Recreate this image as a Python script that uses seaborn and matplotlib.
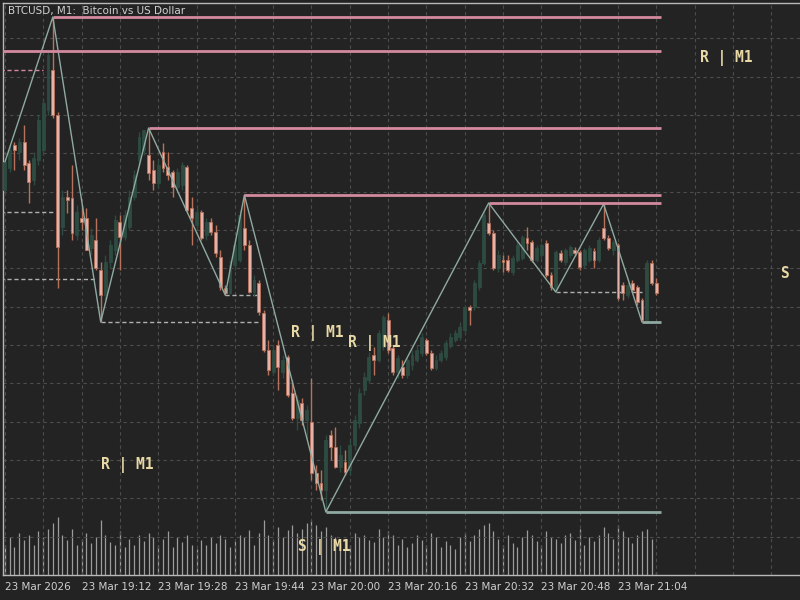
import numpy as np
import pandas as pd
import seaborn as sns
import matplotlib
matplotlib.use("Agg")
import matplotlib.pyplot as plt

# ---- data (BTCUSD M1, one bar per minute from 18:56) ----
opens = [68810, 68832, 68855, 68848, 68858, 68837, 68820, 68840, 68850, 68890,
         68930, 68885, 68773, 68803, 68802, 68765, 68782, 68782, 68752, 68760,
         68730, 68705, 68738, 68750, 68778, 68763, 68773, 68803, 68840, 68850,
         68845, 68830, 68817, 68848, 68833, 68828, 68813, 68815, 68833, 68792,
         68775, 68788, 68765, 68778, 68768, 68743, 68712, 68707, 68735, 68740,
         68772, 68755, 68708, 68717, 68687, 68650, 68628, 68655, 68628, 68643,
         68607, 68582, 68597, 68580, 68578, 68527, 68517, 68510, 68565, 68553,
         68533, 68538, 68530, 68555, 68577, 68610, 68620, 68645, 68640, 68653,
         68680, 68652, 68628, 68633, 68625, 68635, 68640, 68647, 68660, 68647,
         68632, 68640, 68643, 68654, 68660, 68663, 68670, 68693, 68693, 68713,
         68737, 68777, 68767, 68732, 68740, 68740, 68728, 68740, 68742, 68762,
         68758, 68740, 68745, 68757, 68725, 68710, 68747, 68738, 68745, 68750,
         68748, 68735, 68740, 68749, 68740, 68772, 68762, 68750, 68755, 68715,
         68705, 68717, 68713, 68700, 68680, 68737, 68717]
highs = [68842, 68855, 68858, 68862, 68875, 68840, 68848, 68885, 68902, 68950,
         68983, 68888, 68810, 68810, 68835, 68795, 68795, 68792, 68772, 68782,
         68738, 68745, 68760, 68785, 68785, 68790, 68810, 68830, 68868, 68870,
         68872, 68840, 68840, 68857, 68848, 68830, 68832, 68838, 68835, 68803,
         68792, 68790, 68782, 68782, 68775, 68750, 68715, 68740, 68760, 68790,
         68805, 68760, 68725, 68720, 68690, 68660, 68655, 68660, 68645, 68645,
         68620, 68605, 68602, 68595, 68622, 68535, 68530, 68565, 68570, 68573,
         68555, 68550, 68560, 68585, 68612, 68628, 68648, 68653, 68670, 68685,
         68687, 68655, 68645, 68640, 68642, 68650, 68655, 68667, 68662, 68650,
         68645, 68650, 68660, 68667, 68670, 68678, 68695, 68695, 68720, 68740,
         68788, 68797, 68770, 68750, 68745, 68745, 68745, 68758, 68765, 68773,
         68760, 68755, 68757, 68760, 68728, 68750, 68750, 68752, 68755, 68753,
         68750, 68752, 68755, 68752, 68763, 68796, 68765, 68760, 68757, 68718,
         68718, 68720, 68715, 68702, 68740, 68740, 68722]
lows = [68805, 68828, 68830, 68840, 68830, 68797, 68815, 68835, 68845, 68885,
        68882, 68712, 68765, 68787, 68760, 68760, 68770, 68750, 68745, 68730,
        68678, 68700, 68732, 68745, 68730, 68760, 68770, 68800, 68835, 68845,
        68820, 68810, 68812, 68828, 68820, 68803, 68810, 68810, 68788, 68755,
        68770, 68760, 68760, 68765, 68743, 68710, 68705, 68706, 68730, 68738,
        68750, 68707, 68704, 68685, 68648, 68625, 68625, 68610, 68622, 68603,
        68580, 68570, 68575, 68560, 68520, 68510, 68500, 68488, 68540, 68532,
        68528, 68525, 68525, 68550, 68572, 68605, 68617, 68625, 68638, 68650,
        68647, 68625, 68622, 68622, 68622, 68630, 68638, 68644, 68645, 68630,
        68630, 68638, 68640, 68652, 68658, 68660, 68667, 68675, 68690, 68710,
        68735, 68765, 68730, 68728, 68728, 68728, 68725, 68738, 68740, 68750,
        68738, 68738, 68742, 68723, 68710, 68708, 68738, 68735, 68742, 68744,
        68730, 68732, 68738, 68732, 68738, 68760, 68750, 68745, 68700, 68700,
        68702, 68708, 68695, 68678, 68680, 68715, 68705]
closes = [68838, 68850, 68850, 68858, 68835, 68818, 68842, 68880, 68897, 68945,
          68885, 68753, 68803, 68800, 68767, 68788, 68778, 68750, 68765, 68732,
          68705, 68738, 68755, 68780, 68763, 68785, 68803, 68825, 68863, 68870,
          68827, 68817, 68835, 68832, 68825, 68813, 68828, 68835, 68790, 68782,
          68788, 68762, 68778, 68768, 68747, 68713, 68707, 68735, 68755, 68785,
          68755, 68708, 68720, 68688, 68650, 68630, 68650, 68633, 68640, 68605,
          68582, 68600, 68580, 68590, 68527, 68517, 68510, 68560, 68553, 68533,
          68545, 68528, 68555, 68580, 68607, 68623, 68643, 68640, 68667, 68683,
          68650, 68628, 68642, 68625, 68640, 68645, 68650, 68663, 68647, 68632,
          68640, 68647, 68657, 68663, 68667, 68673, 68693, 68690, 68717, 68737,
          68785, 68767, 68732, 68745, 68738, 68730, 68742, 68755, 68763, 68757,
          68740, 68752, 68755, 68725, 68713, 68748, 68740, 68750, 68753, 68747,
          68733, 68750, 68752, 68740, 68760, 68762, 68752, 68758, 68702, 68707,
          68715, 68710, 68698, 68680, 68737, 68717, 68707]
volumes = [30, 38, 28, 42, 35, 40, 30, 44, 38, 46,
           52, 58, 40, 35, 46, 30, 36, 42, 32, 38,
           55, 40, 33, 30, 44, 28, 36, 30, 40, 34,
           42, 38, 30, 36, 44, 28, 38, 33, 40, 30,
           26, 35, 30, 38, 32, 40, 36, 28, 34, 40,
           38, 45, 30, 42, 55, 40, 35, 48, 38, 45,
           50, 42, 46, 52, 55, 50, 44, 48, 40, 38,
           32, 36, 30, 42, 38, 40, 35, 33, 46, 38,
           44, 40, 30, 36, 28, 32, 40, 35, 30, 42,
           38, 28, 34, 30, 26, 38, 42, 34, 40, 46,
           50, 52, 44, 36, 30, 40, 32, 28, 38, 45,
           40, 34, 30, 44, 38, 36, 32, 40, 42, 35,
           46, 30, 38, 34, 40, 48, 42, 36, 50, 44,
           38, 32, 40, 44, 46, 36, 3]

tick_labels = ["23 Mar 2026", "23 Mar 19:12", "23 Mar 19:28", "23 Mar 19:44",
               "23 Mar 20:00", "23 Mar 20:16", "23 Mar 20:32", "23 Mar 20:48",
               "23 Mar 21:04"]

# zigzag pivots (bar index, price)
zz_bars = [0, 10, 20, 30, 46, 50, 67, 101, 115, 125, 133]
zz_prices = [68838, 68983, 68678, 68872, 68705, 68805, 68488, 68797, 68708, 68796, 68678]

# active resistance / support levels (price, start bar)
res_prices = [68983, 68949, 68872, 68805, 68797]
res_start = [10, -1, 30, 50, 101]
sup_prices = [68488, 68678]
sup_start = [67, 133]
# broken levels (price, start bar, end bar, colour key)
brk_prices = [68930, 68788, 68721, 68678, 68705, 68708]
brk_start = [-1, -1, -1, 20, 46, 115]
brk_end = [8, 10, 19, 53, 53, 133]
brk_kind = ["r", "s", "s", "s", "s", "s"]

# text labels (text, bar, price)
lbl_text = ["R | M1", "R | M1", "R | M1", "R | M1", "S | M1", "S"]
lbl_bar = [150.6, 65.2, 77.1, 25.6, 66.7, 162.7]
lbl_price = [68942, 68667, 68657, 68535, 68453, 68727]

# ---- style ----
BG = "#232323"
GRID = "#4d4d4d"
FRAME = "#b8b8b8"
PINK = "#d48a9e"
ZZ = "#8faaa2"
BEAR_BODY = "#e3b3ab"
BEAR_EDGE = "#b8715a"
BULL = "#2d4b40"
TXT = "#e8d9a6"

sns.set_style("dark", {"axes.facecolor": BG, "figure.facecolor": BG})

df = pd.DataFrame({"open": opens, "high": highs, "low": lows,
                   "close": closes, "volume": volumes})
df["bar"] = np.arange(len(df))
bull = df["close"] >= df["open"]

fig = plt.figure(figsize=(8, 6), dpi=100, facecolor=BG)
rect = [3 / 800, 25 / 600, 797 / 800, 572 / 600]
axv = fig.add_axes(rect)
ax = fig.add_axes(rect, sharex=axv)
ax.set_facecolor("none")
axv.set_facecolor(BG)

# volume
axv.vlines(df["bar"], 0, df["volume"], color="#9c9c9c", lw=0.9)
axv.set_ylim(0, 572)
axv.axis("off")

# grid
ax.set_xlim(-0.4, 166)
ax.set_ylim(68425, 68997)
ax.set_xticks(np.arange(0, 137, 16))
ax.set_xticklabels(tick_labels, ha="left")
ax.set_xticks(np.arange(8, 166, 8), minor=True)
ax.set_yticks(np.linspace(69000 - 38.33, 69000 - 38.33 * 14, 14))
ax.set_yticklabels([])
ax.grid(True, which="both", axis="both", color=GRID, lw=0.8, ls=(0, (3, 3)))
ax.tick_params(axis="x", which="major", length=4, direction="inout",
               color=FRAME, labelsize=7.5, labelcolor="#cfcfcf", pad=3)
ax.tick_params(axis="x", which="minor", length=0)
ax.tick_params(axis="y", length=0)
for s in ["left", "top", "bottom"]:
    ax.spines[s].set_visible(True)
    ax.spines[s].set_color(FRAME)
    ax.spines[s].set_linewidth(1)
ax.spines["right"].set_visible(False)

# broken levels
for p, a, b, k in zip(brk_prices, brk_start, brk_end, brk_kind):
    ax.hlines(p, a, b, color=PINK if k == "r" else "#b0b0b0",
              lw=1, ls=(0, (3, 2)), zorder=2)

# candles
w = 0.6
ax.vlines(df.loc[bull, "bar"], df.loc[bull, "low"], df.loc[bull, "high"],
          color=BULL, lw=1, zorder=3)
ax.bar(df.loc[bull, "bar"], df.loc[bull, "close"] - df.loc[bull, "open"],
       bottom=df.loc[bull, "open"], width=w, color=BULL, edgecolor=BULL,
       lw=0.6, zorder=3)
bear = ~bull
ax.vlines(df.loc[bear, "bar"], df.loc[bear, "low"], df.loc[bear, "high"],
          color=BEAR_EDGE, lw=1, zorder=3)
ax.bar(df.loc[bear, "bar"], df.loc[bear, "close"] - df.loc[bear, "open"],
       bottom=df.loc[bear, "open"], width=w, color=BEAR_BODY,
       edgecolor=BEAR_EDGE, lw=0.6, zorder=4)

# zigzag
sns.lineplot(x=zz_bars, y=zz_prices, ax=ax, color=ZZ, lw=1, sort=False,
             estimator=None, zorder=5)

# active levels
for p, a in zip(res_prices, res_start):
    ax.hlines(p, a, 137, color=PINK, lw=2, zorder=6)
for p, a in zip(sup_prices, sup_start):
    ax.hlines(p, a, 137, color=ZZ, lw=2, zorder=6)

# labels
for t, xb, yp in zip(lbl_text, lbl_bar, lbl_price):
    ax.text(xb, yp, t, family="DejaVu Sans Mono", weight="bold",
            fontsize=10.5, color=TXT, ha="center", va="center", zorder=7)

ax.set_xlabel("")
ax.set_ylabel("")
fig.text(8 / 800, 1 - 11 / 600, "BTCUSD, M1:  Bitcoin vs US Dollar",
         fontsize=7.5, color="#d0d0d0", va="center", ha="left")

fig.savefig("out.png", dpi=100, facecolor=BG)
